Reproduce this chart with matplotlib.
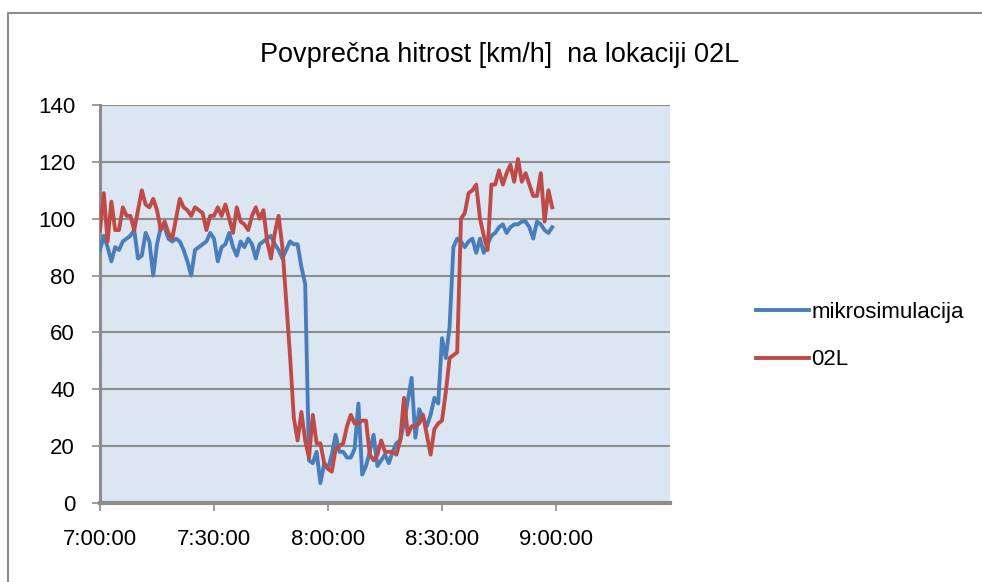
import matplotlib
matplotlib.use("Agg")
import matplotlib.pyplot as plt
from matplotlib.lines import Line2D
from matplotlib.ticker import FuncFormatter

# minutes after 7:00:00, one sample per minute
minutes = list(range(120))

mikrosimulacija = [
    89, 94, 90, 85, 90, 89, 92, 93, 94, 96,
    86, 87, 95, 92, 80, 91, 97, 97, 93, 92,
    93, 92, 89, 85, 80, 89, 90, 91, 92, 95,
    93, 85, 90, 91, 95, 90, 87, 92, 90, 93,
    91, 86, 91, 92, 93, 94, 91, 89, 86, 89,
    92, 91, 91, 83, 77, 15, 14, 18, 7, 14,
    12, 17, 24, 18, 18, 16, 16, 19, 35, 10,
    13, 18, 24, 13, 15, 17, 14, 18, 21, 22,
    28, 36, 44, 23, 33, 30, 27, 31, 37, 35,
    58, 51, 62, 90, 93, 92, 90, 92, 93, 88,
    93, 88, 91, 94, 95, 97, 98, 95, 97, 98,
    98, 99, 99, 97, 93, 99, 98, 96, 95, 97,
]

loc_02L = [
    96, 109, 92, 106, 96, 96, 104, 101, 101, 96,
    103, 110, 105, 104, 107, 103, 96, 99, 95, 93,
    100, 107, 104, 103, 101, 104, 103, 102, 96, 101,
    101, 104, 101, 105, 100, 95, 104, 99, 98, 96,
    101, 104, 100, 103, 92, 86, 95, 101, 90, 71,
    52, 30, 22, 32, 22, 16, 31, 21, 21, 14,
    12, 11, 19, 20, 21, 27, 31, 28, 28, 29,
    29, 17, 15, 17, 22, 18, 18, 18, 17, 22,
    37, 24, 27, 27, 28, 31, 24, 17, 26, 28,
    29, 39, 51, 52, 53, 100, 102, 109, 110, 112,
    100, 94, 89, 112, 112, 117, 112, 116, 119, 113,
    121, 113, 116, 112, 108, 108, 116, 99, 110, 104,
]

x_ticks = [0, 30, 60, 90, 120]
y_ticks = [0, 20, 40, 60, 80, 100, 120, 140]

BLUE = "#4A7EBB"
RED = "#BE4B48"
GRID = "#8C8C8C"

plt.rcParams["font.family"] = ["Liberation Sans", "DejaVu Sans"]

fig = plt.figure(figsize=(9.82, 5.82), dpi=100)
ax = fig.add_axes([100 / 982, 79 / 582, 570 / 982, 398 / 582])
ax.set_facecolor("#DCE6F2")

ax.plot(minutes, mikrosimulacija, color=BLUE, lw=2.8, label="mikrosimulacija",
        solid_joinstyle="round", zorder=3)
ax.plot(minutes, loc_02L, color=RED, lw=2.8, label="02L",
        solid_joinstyle="round", zorder=3)

ax.set_xlim(0, 150)
ax.set_ylim(0, 140)
ax.set_xticks(x_ticks)
ax.set_yticks(y_ticks)
ax.xaxis.set_major_formatter(
    FuncFormatter(lambda v, p: "%d:%02d:00" % (7 + int(v) // 60, int(v) % 60)))

ax.grid(axis="y", color=GRID, lw=1.5, zorder=1)
ax.set_axisbelow(True)
for s in ("top", "right"):
    ax.spines[s].set_visible(False)
ax.spines["left"].set_color(GRID)
ax.spines["left"].set_linewidth(2.2)
ax.spines["bottom"].set_color(GRID)
ax.spines["bottom"].set_linewidth(3)
ax.tick_params(axis="both", colors=GRID, labelcolor="black", labelsize=16,
               length=6, width=1.2)
ax.tick_params(axis="y", pad=12)
ax.tick_params(axis="x", pad=13)

fig.text(500 / 982, 1 - 55 / 582, "Povprečna hitrost [km/h]  na lokaciji 02L",
         ha="center", va="center", fontsize=19.5)

ax.legend(loc="center left", bbox_to_anchor=(736 / 982, 1 - 336 / 582),
          bbox_transform=fig.transFigure, frameon=False, fontsize=16,
          handlelength=2.4, handletextpad=0.1, labelspacing=1.2)

# outer chart frame (left and top edges)
fig.add_artist(Line2D([8 / 982, 8 / 982, 1.0], [0.0, 1 - 13 / 582, 1 - 13 / 582],
                      transform=fig.transFigure, color="#8C8C8C", lw=1.5))

fig.savefig("out.png", dpi=100)
